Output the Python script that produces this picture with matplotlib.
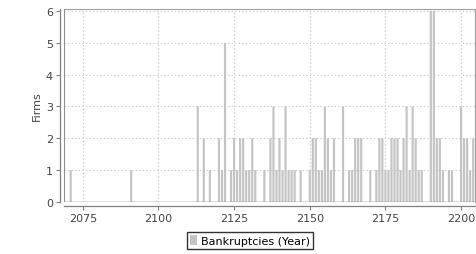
import matplotlib
matplotlib.use('Agg')
import matplotlib.pyplot as plt
from matplotlib.patches import Patch

# bankruptcies per year
years = [2071, 2091,
         2113, 2115, 2117, 2120, 2121, 2122, 2124, 2125, 2126, 2127, 2128, 2129,
         2130, 2131, 2132, 2135, 2137, 2138, 2139, 2140, 2141, 2142, 2143, 2144,
         2145, 2147, 2150, 2151, 2152, 2153, 2154, 2155, 2156, 2157, 2158, 2161,
         2163, 2164, 2165, 2166, 2167, 2170, 2172, 2173, 2174, 2175, 2176, 2177,
         2178, 2179, 2180, 2181, 2182, 2183, 2184, 2185, 2186, 2187, 2190, 2191,
         2192, 2193, 2194, 2196, 2197, 2200, 2201, 2202, 2203, 2204]
firms = [1, 1,
         3, 2, 1, 2, 1, 5, 1, 2, 1, 2, 2, 1,
         1, 2, 1, 1, 2, 3, 1, 2, 1, 3, 1, 1,
         1, 1, 1, 2, 2, 1, 1, 3, 2, 1, 2, 3,
         1, 1, 2, 2, 2, 1, 1, 2, 2, 1, 1, 2,
         2, 2, 1, 2, 3, 1, 3, 2, 1, 1, 6, 6,
         2, 2, 1, 1, 1, 3, 2, 2, 1, 2]
xticks = [2075, 2100, 2125, 2150, 2175, 2200]
yticks = [0, 1, 2, 3, 4, 5, 6]

fig = plt.figure(figsize=(4.76, 2.55), dpi=100)
ax = fig.add_axes([64/476, 1-203/255, (475-64)/476, (203-10)/255])

bars = ax.bar(years, firms, width=0.72, color='#c4c4c4', linewidth=0, zorder=2)
for b in bars:
    b.set_snap(False)

ax.set_xlim(2068.8, 2204.6)
ax.set_ylim(0, 6.06)
ax.set_xticks(xticks)
ax.set_yticks(yticks)
ax.grid(True, color='#cccccc', linestyle=(0, (1.2, 2)), linewidth=0.8, zorder=0)

for s in ['top', 'right']:
    ax.spines[s].set_color('#a0a0a0')
    ax.spines[s].set_linewidth(0.8)
for s in ['left', 'bottom']:
    ax.spines[s].set_position(('outward', 3))
    ax.spines[s].set_color('#808080')
    ax.spines[s].set_linewidth(0.9)
# inner frame lines of the plot area
ax.axhline(0, color='#707070', linewidth=1.0, zorder=3)
ax.axvline(2068.8, color='#909090', linewidth=0.8, zorder=3)

ax.tick_params(axis='both', labelsize=8, labelcolor='#444444', color='#808080',
               length=3, width=0.8, pad=2)
ax.set_ylabel('Firms', fontsize=8, color='#444444', labelpad=3)

fig.legend(handles=[Patch(facecolor='#c4c4c4', edgecolor='none', label='Bankruptcies (Year)')],
           loc='center', bbox_to_anchor=(250/476, 1-241.5/255), fontsize=8,
           frameon=True, fancybox=False, edgecolor='#333333', framealpha=1,
           handlelength=0.6, handleheight=1.0, handletextpad=0.4,
           borderpad=0.25, borderaxespad=0)

fig.savefig('out.png', dpi=100)
